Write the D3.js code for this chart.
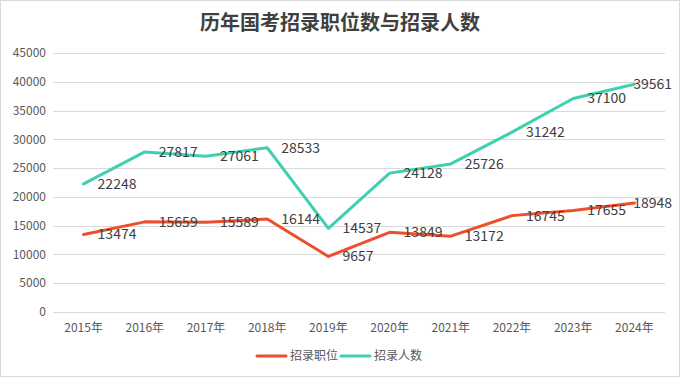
<!DOCTYPE html>
<html>
<head>
<meta charset="utf-8">
<script src="https://cdn.jsdelivr.net/npm/d3@7"></script>
<style>
  body { margin: 0; background: #fff; }
  svg { display: block; font-family: "Microsoft YaHei", "Noto Sans CJK SC", "Noto Sans", sans-serif; }
</style>
</head>
<body>
<div id="chart"></div>
<script>
// Chart data
const years = ["2015年", "2016年", "2017年", "2018年", "2019年", "2020年", "2021年", "2022年", "2023年", "2024年"];
const positions = [13474, 15659, 15589, 16144, 9657, 13849, 13172, 16745, 17655, 18948];
const recruits = [22248, 27817, 27061, 28533, 14537, 24128, 25726, 31242, 37100, 39561];
const yTicks = [0, 5000, 10000, 15000, 20000, 25000, 30000, 35000, 40000, 45000];
const seriesNames = ["招录职位", "招录人数"];

const width = 680, height = 377;
const margin = {top: 53, right: 15, bottom: 65, left: 53};
const colors = ["#ec4f2d", "#40cfb0"];

const svg = d3.select("#chart").append("svg")
    .attr("width", width)
    .attr("height", height);

// Outer frame
svg.append("rect")
    .attr("x", 0.5).attr("y", 0.5)
    .attr("width", width - 1).attr("height", height - 1)
    .attr("fill", "#fff")
    .attr("stroke", "#d9d9d9");

// Title
svg.append("text")
    .attr("x", width / 2)
    .attr("y", 30)
    .attr("text-anchor", "middle")
    .style("font-size", "20px")
    .style("font-weight", "bold")
    .style("fill", "#404040")
    .text("历年国考招录职位数与招录人数");

// Scales
const x = d3.scaleBand().domain(years).range([margin.left, width - margin.right]);
const y = d3.scaleLinear().domain([0, 45000]).range([height - margin.bottom, margin.top]);
const cx = d => x(d) + x.bandwidth() / 2;

// Grid lines
svg.append("g")
    .selectAll("line")
    .data(yTicks)
    .join("line")
    .attr("x1", margin.left)
    .attr("x2", width - margin.right)
    .attr("y1", d => Math.round(y(d)) + 0.5)
    .attr("y2", d => Math.round(y(d)) + 0.5)
    .attr("stroke", "#d9d9d9")
    .attr("stroke-width", 1);

// Y axis labels
svg.append("g")
    .selectAll("text")
    .data(yTicks)
    .join("text")
    .attr("x", margin.left - 7)
    .attr("y", d => y(d))
    .attr("dy", "0.35em")
    .attr("text-anchor", "end")
    .style("font-size", "12px")
    .style("fill", "#595959")
    .text(d => d);

// X axis labels
svg.append("g")
    .selectAll("text")
    .data(years)
    .join("text")
    .attr("x", d => cx(d))
    .attr("y", height - margin.bottom + 20)
    .attr("text-anchor", "middle")
    .style("font-size", "12px")
    .style("fill", "#595959")
    .text(d => d);

// Lines and labels
const line = d3.line()
    .x((d, i) => cx(years[i]))
    .y(d => y(d));

[positions, recruits].forEach((vals, k) => {
    svg.append("path")
        .datum(vals)
        .attr("fill", "none")
        .attr("stroke", colors[k])
        .attr("stroke-width", 3)
        .attr("stroke-linejoin", "round")
        .attr("stroke-linecap", "round")
        .attr("d", line);
});

[positions, recruits].forEach((vals, k) => {
    svg.append("g")
        .selectAll("text")
        .data(vals)
        .join("text")
        .attr("x", (d, i) => cx(years[i]) + 14)
        .attr("y", d => y(d))
        .attr("dy", "0.35em")
        .style("font-size", "14px")
        .style("fill", "#404040")
        .text(d => d)
        .each(function(d, i) {
            // keep labels inside the frame
            const w = this.getComputedTextLength();
            const px = cx(years[i]) + 14;
            if (px + w > width - 8) d3.select(this).attr("x", width - 8 - w);
        });
});

// Legend
const legend = svg.append("g").attr("transform", "translate(257,356)");
let lx = 0;
seriesNames.forEach((name, k) => {
    legend.append("line")
        .attr("x1", lx).attr("x2", lx + 29)
        .attr("y1", 0).attr("y2", 0)
        .attr("stroke", colors[k])
        .attr("stroke-width", 3)
        .attr("stroke-linecap", "round");
    const t = legend.append("text")
        .attr("x", lx + 33)
        .attr("y", 0)
        .attr("dy", "0.35em")
        .style("font-size", "12px")
        .style("fill", "#595959")
        .text(name);
    lx += 33 + t.node().getComputedTextLength() + 3;
});
</script>
</body>
</html>
